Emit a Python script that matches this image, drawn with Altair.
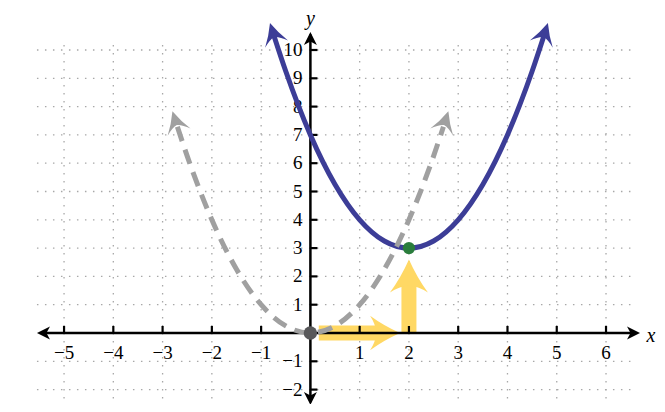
import math
import altair as alt
import pandas as pd

# ---------------- data ----------------
x_ticks = [-5, -4, -3, -2, -1, 1, 2, 3, 4, 5, 6]
x_tick_labels = ["−5", "−4", "−3", "−2", "−1", "1", "2", "3", "4", "5", "6"]
y_ticks = [-2, -1, 1, 2, 3, 4, 5, 6, 7, 8, 9, 10]
y_tick_labels = ["−2", "−1", "1", "2", "3", "4", "5", "6", "7", "8", "9", "10"]

grid_x = [-5, -4, -3, -2, -1, 1, 2, 3, 4, 5, 6]
grid_y = [-2, -1, 1, 2, 3, 4, 5, 6, 7, 8, 9, 10]
grid_x_span = [-5.55, 6.55]     # extent of the horizontal grid lines
grid_y_span = [-2.6, 10.3]      # extent of the vertical grid lines

# axis lines and their arrow tips
x_axis_span = [-5.45, 6.6]
x_axis_tips = [-5.55, 6.69]
y_axis_span = [-2.45, 10.55]
y_axis_tips = [-2.54, 10.64]

# blue solid parabola (shifted)
blue_x = [-0.75, -0.5, 0, 0.5, 1, 1.5, 2, 2.5, 3, 3.5, 4, 4.5, 4.75]
blue_y = [10.56, 9.25, 7, 5.25, 4, 3.25, 3, 3.25, 4, 5.25, 7, 9.25, 10.56]
blue_tip_x = [-0.82, 4.82]
blue_tip_y = [10.95, 10.95]

# gray dashed parabola (original)
gray_x = [-2.7, -2.5, -2, -1.5, -1, -0.5, 0, 0.5, 1, 1.5, 2, 2.5, 2.7]
gray_y = [7.29, 6.25, 4, 2.25, 1, 0.25, 0, 0.25, 1, 2.25, 4, 6.25, 7.29]
gray_tip_x = [-2.8, 2.8]
gray_tip_y = [7.84, 7.84]

# yellow translation arrows
h_shaft_x = [0.17, 1.4]
h_tip = (1.82, 0)
v_shaft_y = [0, 1.75]
v_x = 2
v_tip = (2, 2.6)

# vertices
vertex_gray = (0, 0)
vertex_green = (2, 3)

# axis titles
title_text = ["x", "y"]
title_x = [6.91, 0.0]
title_y = [-0.1, 11.08]

# ---------------- layout ----------------
W, H = 649, 396
PX_X = 49.27
PX_Y = 28.3
XMIN = -(310.4 - 8) / PX_X
XMAX = XMIN + W / PX_X
YMAX = (333 - 8) / PX_Y
YMIN = YMAX - H / PX_Y

xs = alt.Scale(domain=[XMIN, XMAX], nice=False, zero=False)
ys = alt.Scale(domain=[YMIN, YMAX], nice=False, zero=False)


def X(f, **kw):
    return alt.X(f, type="quantitative", scale=xs, axis=None, **kw)


def Y(f, **kw):
    return alt.Y(f, type="quantitative", scale=ys, axis=None, **kw)


def ang(x0, y0, x1, y1):
    return math.degrees(math.atan2((x1 - x0) * PX_X, (y1 - y0) * PX_Y)) % 360


FONT = "Liberation Serif, Times New Roman, DejaVu Serif, serif"
BLUE = "#3c3d97"
GRAY = "#a0a0a0"
YELLOW = "#ffd864"
GRID = "#a8a8a8"

AXIS_HEAD = "M0,0 L6.5,13 L0,9.5 L-6.5,13 Z"
CURVE_HEAD = "M0,0 Q5,12 12,22 Q5,15.5 0,14.5 Q-5,15.5 -12,22 Q-5,12 0,0 Z"
YELLOW_HEAD = "M0,0 Q8,18 19,33 Q10,27 0,26 Q-10,27 -19,33 Q-8,18 0,0 Z"

# ---------------- grid ----------------
vgrid = alt.Chart(pd.DataFrame({"x": grid_x, "y": grid_y_span[0], "y2": grid_y_span[1]})).mark_rule(
    color=GRID, strokeWidth=1.3, strokeDash=[1.5, 6.5]
).encode(x=X("x"), y=Y("y"), y2="y2")

hgrid = alt.Chart(pd.DataFrame({"y": grid_y, "x": grid_x_span[0], "x2": grid_x_span[1]})).mark_rule(
    color=GRID, strokeWidth=1.3, strokeDash=[1.5, 6.5]
).encode(y=Y("y"), x=X("x"), x2="x2")

# ---------------- yellow arrows ----------------
h_shaft = alt.Chart(pd.DataFrame({"x": [h_shaft_x[0]], "x2": [h_shaft_x[1]], "y": [0]})).mark_rule(
    color=YELLOW, strokeWidth=15, strokeCap="butt"
).encode(x=X("x"), x2="x2", y=Y("y"))

v_shaft = alt.Chart(pd.DataFrame({"y": [v_shaft_y[0]], "y2": [v_shaft_y[1]], "x": [v_x]})).mark_rule(
    color=YELLOW, strokeWidth=15, strokeCap="butt"
).encode(y=Y("y"), y2="y2", x=X("x"))

h_head = alt.Chart(pd.DataFrame({"x": [h_tip[0]], "y": [h_tip[1]], "a": [90]})).mark_point(
    shape=YELLOW_HEAD, filled=True, fill=YELLOW, opacity=1, size=4 * (30 / 33) ** 2, strokeWidth=0
).encode(x=X("x"), y=Y("y"), angle=alt.Angle("a:Q", scale=None))

v_head = alt.Chart(pd.DataFrame({"x": [v_tip[0]], "y": [v_tip[1]], "a": [0]})).mark_point(
    shape=YELLOW_HEAD, filled=True, fill=YELLOW, opacity=1, size=4, strokeWidth=0
).encode(x=X("x"), y=Y("y"), angle=alt.Angle("a:Q", scale=None))

# ---------------- axes ----------------
x_line = alt.Chart(pd.DataFrame({"x": [x_axis_span[0]], "x2": [x_axis_span[1]], "y": [0]})).mark_rule(
    color="black", strokeWidth=2.5
).encode(x=X("x"), x2="x2", y=Y("y"))

y_line = alt.Chart(pd.DataFrame({"y": [y_axis_span[0]], "y2": [y_axis_span[1]], "x": [0]})).mark_rule(
    color="black", strokeWidth=2.5
).encode(y=Y("y"), y2="y2", x=X("x"))

axis_heads_df = pd.DataFrame({
    "x": [x_axis_tips[0], x_axis_tips[1], 0, 0],
    "y": [0, 0, y_axis_tips[0], y_axis_tips[1]],
    "a": [270, 90, 180, 0],
})
axis_heads = alt.Chart(axis_heads_df).mark_point(
    shape=AXIS_HEAD, filled=True, fill="black", opacity=1, size=4, strokeWidth=0
).encode(x=X("x"), y=Y("y"), angle=alt.Angle("a:Q", scale=None))

x_tick_marks = alt.Chart(pd.DataFrame({"x": x_ticks, "y": 0})).mark_tick(
    orient="vertical", color="black", size=7, thickness=2.2, yOffset=-3.5, opacity=1
).encode(x=X("x"), y=Y("y"))

y_tick_marks = alt.Chart(pd.DataFrame({"y": y_ticks, "x": 0})).mark_tick(
    orient="horizontal", color="black", size=7, thickness=2.2, xOffset=3.5, opacity=1
).encode(x=X("x"), y=Y("y"))

x_labels = alt.Chart(pd.DataFrame({"x": x_ticks, "t": x_tick_labels, "y": 0})).mark_text(
    font=FONT, fontSize=19, color="black", align="center", baseline="alphabetic", dy=26
).encode(x=X("x"), y=Y("y"), text="t:N")

y_labels = alt.Chart(pd.DataFrame({"y": y_ticks, "t": y_tick_labels, "x": 0})).mark_text(
    font=FONT, fontSize=19, color="black", align="right", baseline="middle", dx=-8
).encode(x=X("x"), y=Y("y"), text="t:N")

axis_titles = alt.Chart(pd.DataFrame({"x": title_x, "y": title_y, "t": title_text})).mark_text(
    font=FONT, fontSize=20, fontStyle="italic", color="black", align="center", baseline="middle"
).encode(x=X("x"), y=Y("y"), text="t:N")

# ---------------- curves ----------------
blue_df = pd.DataFrame({"x": blue_x, "y": blue_y})
blue_line = alt.Chart(blue_df).mark_line(
    color=BLUE, strokeWidth=5, interpolate="monotone", strokeCap="butt"
).encode(x=X("x"), y=Y("y"), order="x:Q")

blue_heads = alt.Chart(pd.DataFrame({
    "x": blue_tip_x, "y": blue_tip_y,
    "a": [ang(blue_x[0], blue_y[0], blue_tip_x[0], blue_tip_y[0]),
          ang(blue_x[-1], blue_y[-1], blue_tip_x[1], blue_tip_y[1])],
})).mark_point(shape=CURVE_HEAD, filled=True, fill=BLUE, opacity=1, size=4, strokeWidth=0).encode(
    x=X("x"), y=Y("y"), angle=alt.Angle("a:Q", scale=None))

gray_df = pd.DataFrame({"x": gray_x, "y": gray_y})
gray_line = alt.Chart(gray_df).mark_line(
    color=GRAY, strokeWidth=5, interpolate="monotone", strokeDash=[15, 9], strokeCap="butt"
).encode(x=X("x"), y=Y("y"), order="x:Q")

gray_heads = alt.Chart(pd.DataFrame({
    "x": gray_tip_x, "y": gray_tip_y,
    "a": [ang(gray_x[0], gray_y[0], gray_tip_x[0], gray_tip_y[0]),
          ang(gray_x[-1], gray_y[-1], gray_tip_x[1], gray_tip_y[1])],
})).mark_point(shape=CURVE_HEAD, filled=True, fill=GRAY, opacity=1, size=4, strokeWidth=0).encode(
    x=X("x"), y=Y("y"), angle=alt.Angle("a:Q", scale=None))

# ---------------- vertices ----------------
pt_gray = alt.Chart(pd.DataFrame({"x": [vertex_gray[0]], "y": [vertex_gray[1]]})).mark_circle(
    color="#58585a", size=180, opacity=1
).encode(x=X("x"), y=Y("y"))

pt_green = alt.Chart(pd.DataFrame({"x": [vertex_green[0]], "y": [vertex_green[1]]})).mark_circle(
    color="#2a7d3c", size=150, opacity=1
).encode(x=X("x"), y=Y("y"))

chart = alt.layer(
    vgrid, hgrid,
    h_shaft, v_shaft, h_head, v_head,
    x_line, y_line, axis_heads, x_tick_marks, y_tick_marks,
    x_labels, y_labels, axis_titles,
    blue_line, blue_heads, gray_line, gray_heads,
    pt_gray, pt_green,
).properties(
    width=W, height=H, padding=0, autosize="none", background="white"
).configure_view(stroke=None)

chart.save("out.html", embed_options={"renderer": "svg", "actions": False})
